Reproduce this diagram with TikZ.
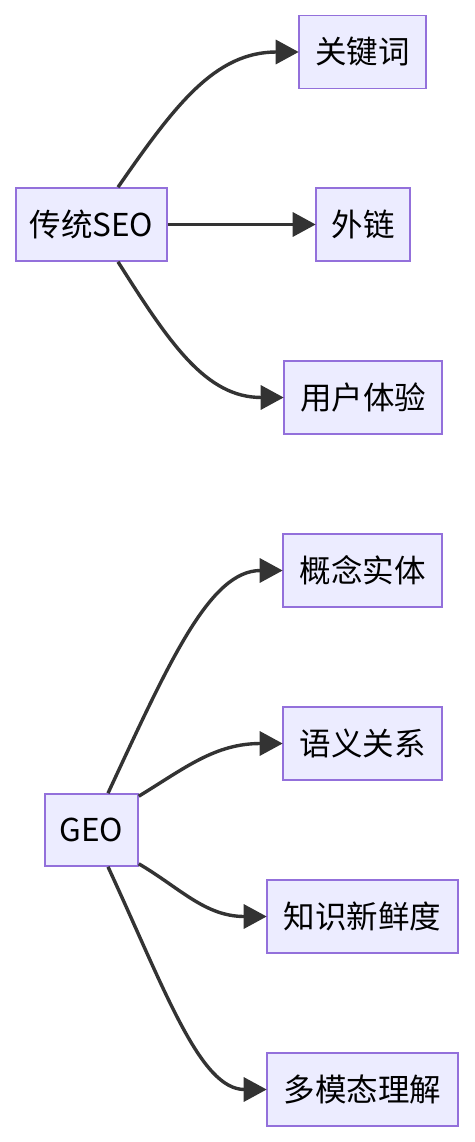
\documentclass[tikz,border=0pt]{standalone}
\usepackage{fontspec}
\setmainfont{Noto Sans CJK SC}
\usetikzlibrary{arrows.meta,calc}
\definecolor{boxfill}{HTML}{ECECFF}
\definecolor{boxline}{HTML}{9370DB}
\definecolor{edgecol}{HTML}{333333}
\begin{document}
\begin{tikzpicture}[x=1pt,y=-1pt,
  box/.style={draw=boxline,fill=boxfill,line width=1.6pt,inner sep=0pt,minimum height=73pt,
    font=\fontsize{31.5}{36}\selectfont,text=black,anchor=center},
  edge/.style={draw=edgecol,line width=3.4pt,-{Triangle[length=23pt,width=24pt]},shorten >=-0.5pt}]
\useasboundingbox (0,0) rectangle (474,1142);
\node[box,minimum width=151pt] (seo) at (91.5,224.5) {传统SEO};
\node[box,minimum width=127pt] (gjc) at (362.5,52) {关键词};
\node[box,minimum width=94pt] (wl) at (363,224.5) {外链};
\node[box,minimum width=158pt] (yh) at (363,397.5) {用户体验};
\node[box,minimum width=93pt,minimum height=72pt] (geo) at (91.5,830) {GEO};
\node[box,minimum width=159pt] (gn) at (362.5,570.5) {概念实体};
\node[box,minimum width=159pt] (yy) at (362.5,743.5) {语义关系};
\node[box,minimum width=191pt] (zs) at (362.5,916.5) {知识新鲜度};
\node[box,minimum width=191pt] (dm) at (362.5,1089.5) {多模态理解};
\draw[edge] ($(seo.north)+(26.5,0)$) .. controls (175,105) and (215,52) .. (gjc.west);
\draw[edge] (seo.east) -- (wl.west);
\draw[edge] ($(seo.south)+(26.5,0)$) .. controls (170,344) and (206,397.5) .. (yh.west);
\draw[edge] ($(geo.north)+(16.5,0)$) .. controls (170,660) and (210,570.5) .. (gn.west);
\draw[edge] ($(geo.north east)+(0,3)$) .. controls (185,768) and (215,743.5) .. (yy.west);
\draw[edge] ($(geo.south east)+(0,-3)$) .. controls (180,888) and (205,916.5) .. (zs.west);
\draw[edge] ($(geo.south)+(16.5,0)$) .. controls (165,990) and (200,1089.5) .. (dm.west);
\end{tikzpicture}
\end{document}
